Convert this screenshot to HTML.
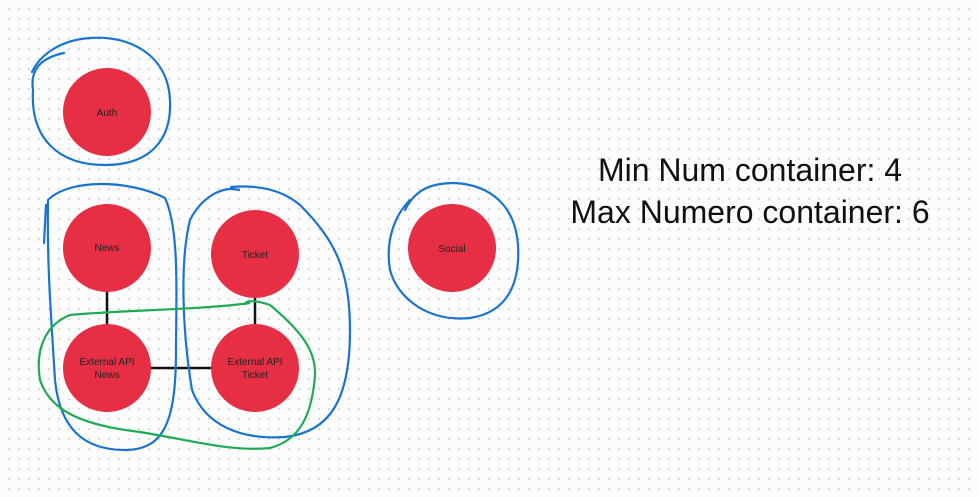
<!DOCTYPE html>
<html><head><style>
html,body{margin:0;padding:0}
body{width:978px;height:497px;overflow:hidden;background-color:#fcfcfc;
background-image:radial-gradient(circle,#d4d4d4 0.9px,transparent 1.2px);background-size:10px 10px;background-position:4px 4px;font-family:"Liberation Sans",sans-serif}
</style></head><body>
<svg width="978" height="497" style="position:absolute;left:0;top:0">
<g stroke="#111" stroke-width="2.5">
<line x1="107" y1="290" x2="107" y2="325"/>
<line x1="150" y1="368" x2="212" y2="368"/>
<line x1="255" y1="297" x2="255" y2="325"/>
</g>
<g fill="#e62e45">
<circle cx="107" cy="112" r="44"/>
<circle cx="107" cy="248" r="44"/>
<circle cx="107" cy="368" r="44"/>
<circle cx="255" cy="254" r="44"/>
<circle cx="255" cy="368" r="44"/>
<circle cx="452" cy="248" r="44"/>
</g>
<g font-size="10" fill="#222" text-anchor="middle">
<text x="107" y="116">Auth</text>
<text x="107" y="251">News</text>
<text x="107" y="365">External API</text>
<text x="107" y="378">News</text>
<text x="255" y="258">Ticket</text>
<text x="255" y="365">External API</text>
<text x="255" y="378">Ticket</text>
<text x="452" y="252">Social</text>
</g>
<g fill="none" stroke="#1a73cf" stroke-width="2.2" stroke-linecap="round">
<path d="M64,53 C40,58 30,70 33,90 C30,140 60,165 105,165 C150,165 172,140 170,100 C168,55 130,35 90,38 C60,40 40,55 32,72"/>
<path d="M46,205 L44,243 M48,200 C70,178 130,180 165,198 C180,230 176,300 176,350 C176,420 165,450 125,450 C85,450 60,430 55,380 C50,300 47,260 48,200"/>
<path d="M239,190 C220,185 200,200 190,220 C180,260 182,330 192,390 C205,425 240,440 285,437 C330,432 350,400 350,330 C350,270 335,240 300,205 C280,188 255,185 231,187"/>
<path d="M410,200 C395,215 385,240 390,270 C398,300 430,322 470,318 C510,312 520,280 518,245 C515,205 490,185 455,183 C430,183 415,190 405,210"/>
</g>
<path fill="none" stroke="#1faa55" stroke-width="2.2" d="M250,303 C200,310 120,310 70,315 C45,325 35,350 40,380 C50,410 80,425 140,432 C190,440 230,452 270,448 C300,440 312,415 315,375 C316,350 300,330 270,305 C255,300 245,300 245,305"/>
</svg>
<div style="position:absolute;left:530px;top:149px;width:440px;text-align:center;font-size:32px;line-height:42px;color:#111">Min Num container: 4<br>Max Numero container: 6</div>
</body></html>
